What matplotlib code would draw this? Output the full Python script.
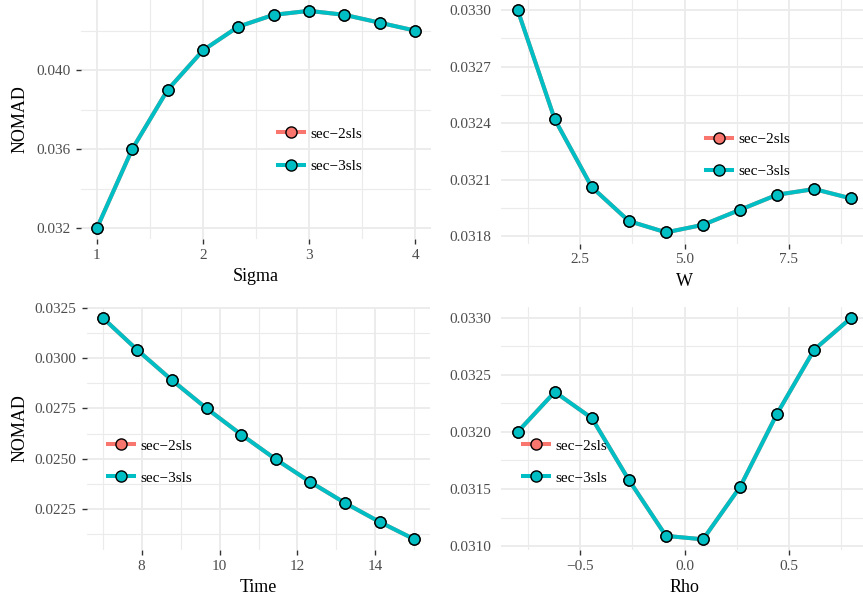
import matplotlib
matplotlib.use('Agg')
import matplotlib.pyplot as plt
from matplotlib.ticker import MultipleLocator, FormatStrFormatter

plt.rcParams['font.family'] = 'Liberation Serif'
plt.rcParams['axes.unicode_minus'] = True

# data (sec-2sls lies exactly under sec-3sls)
sigma = [1, 1.333, 1.667, 2, 2.333, 2.667, 3, 3.333, 3.667, 4]
sigma_3sls = [0.0320, 0.0360, 0.0390, 0.0410, 0.0422, 0.0428, 0.0430, 0.0428, 0.0424, 0.0420]
sigma_2sls = list(sigma_3sls)

w = [1, 1.889, 2.778, 3.667, 4.556, 5.444, 6.333, 7.222, 8.111, 9]
w_3sls = [0.03300, 0.03242, 0.03206, 0.03188, 0.03182, 0.03186, 0.03194, 0.03202, 0.03205, 0.03200]
w_2sls = list(w_3sls)

time = [7, 7.889, 8.778, 9.667, 10.556, 11.444, 12.333, 13.222, 14.111, 15]
time_3sls = [0.0320, 0.0304, 0.0289, 0.0275, 0.0262, 0.02497, 0.02384, 0.0228, 0.02186, 0.0210]
time_2sls = list(time_3sls)

rho = [-0.8, -0.622, -0.444, -0.267, -0.089, 0.089, 0.267, 0.444, 0.622, 0.8]
rho_3sls = [0.03200, 0.03235, 0.03212, 0.03158, 0.03109, 0.03106, 0.03152, 0.03216, 0.03272, 0.03300]
rho_2sls = list(rho_3sls)

labels = ['sec\u22122sls', 'sec\u22123sls']
colors = ['#F8766D', '#00BFC4']

W, H = 863, 598
fig = plt.figure(figsize=(W / 100, H / 100), dpi=100)


def panel(box, x, y2, y3, xlabel, ylabel, xmaj, ymaj, yfmt, yticks, leg):
    l, t, r, b = box
    ax = fig.add_axes([l / W, 1 - b / H, (r - l) / W, (b - t) / H])
    for y, lab, c, z in zip([y2, y3], labels, colors, [3, 4]):
        ax.plot(x, y, color=c, lw=2.9, marker='o', ms=8, mfc=c, mec='black',
                mew=1.0, label=lab, zorder=z)
    xr = max(x) - min(x)
    ax.set_xlim(min(x) - 0.05 * xr, max(x) + 0.05 * xr)
    lo, hi = min(y2 + y3), max(y2 + y3)
    ax.set_ylim(lo - 0.05 * (hi - lo), hi + 0.05 * (hi - lo))

    ax.xaxis.set_major_locator(MultipleLocator(xmaj))
    ax.xaxis.set_minor_locator(MultipleLocator(xmaj / 2))
    ax.yaxis.set_major_locator(MultipleLocator(ymaj))
    ax.yaxis.set_minor_locator(MultipleLocator(ymaj / 2))
    ax.yaxis.set_major_formatter(FormatStrFormatter(yfmt))

    ax.grid(which='major', color='#EBEBEB', lw=1.3)
    ax.grid(which='minor', color='#EBEBEB', lw=0.8)
    ax.set_axisbelow(True)
    for s in ax.spines.values():
        s.set_visible(False)

    ax.tick_params(which='minor', length=0)
    ax.tick_params(which='major', labelsize=11, labelcolor='#4D4D4D',
                   color='#333333', width=1.0)
    ax.tick_params(axis='x', which='major', length=3.6, pad=3.5)
    if yticks:
        ax.tick_params(axis='y', which='major', length=3.6, pad=4.0)
    else:
        ax.tick_params(axis='y', which='major', length=0, pad=6.7)

    ax.set_xlabel(xlabel, fontsize=13, color='black')
    ax.xaxis.set_label_coords(0.5, -37.5 / (b - t))
    ax.xaxis.label.set_va('center')
    if ylabel:
        ax.set_ylabel(ylabel, fontsize=13, color='black')
        ax.yaxis.set_label_coords(-(l - 20.0) / (r - l), 0.5)
        ax.yaxis.label.set_va('center')

    lx, ly = leg
    ax.legend(loc='center left', bbox_to_anchor=(lx / W, 1 - ly / H),
              bbox_transform=fig.transFigure, frameon=False, fontsize=11,
              borderpad=0, handlelength=1.7, handletextpad=0.45,
              labelspacing=1.2, numpoints=1)
    return ax


panel((81, 0, 431, 239), sigma, sigma_2sls, sigma_3sls, 'Sigma', 'NOMAD',
      1, 0.004, '%.3f', True, (270, 150))
panel((501, -1, 868, 243.5), w, w_2sls, w_3sls, 'W', None,
      2.5, 0.0003, '%.4f', False, (698, 155.5))
panel((87, 306.6, 430, 550.4), time, time_2sls, time_3sls, 'Time', 'NOMAD',
      2, 0.0025, '%.4f', True, (100, 461.7))
panel((501, 306.6, 868, 550.4), rho, rho_2sls, rho_3sls, 'Rho', None,
      0.5, 0.0005, '%.4f', False, (515, 461.7))

fig.savefig('out.png', dpi=100)
